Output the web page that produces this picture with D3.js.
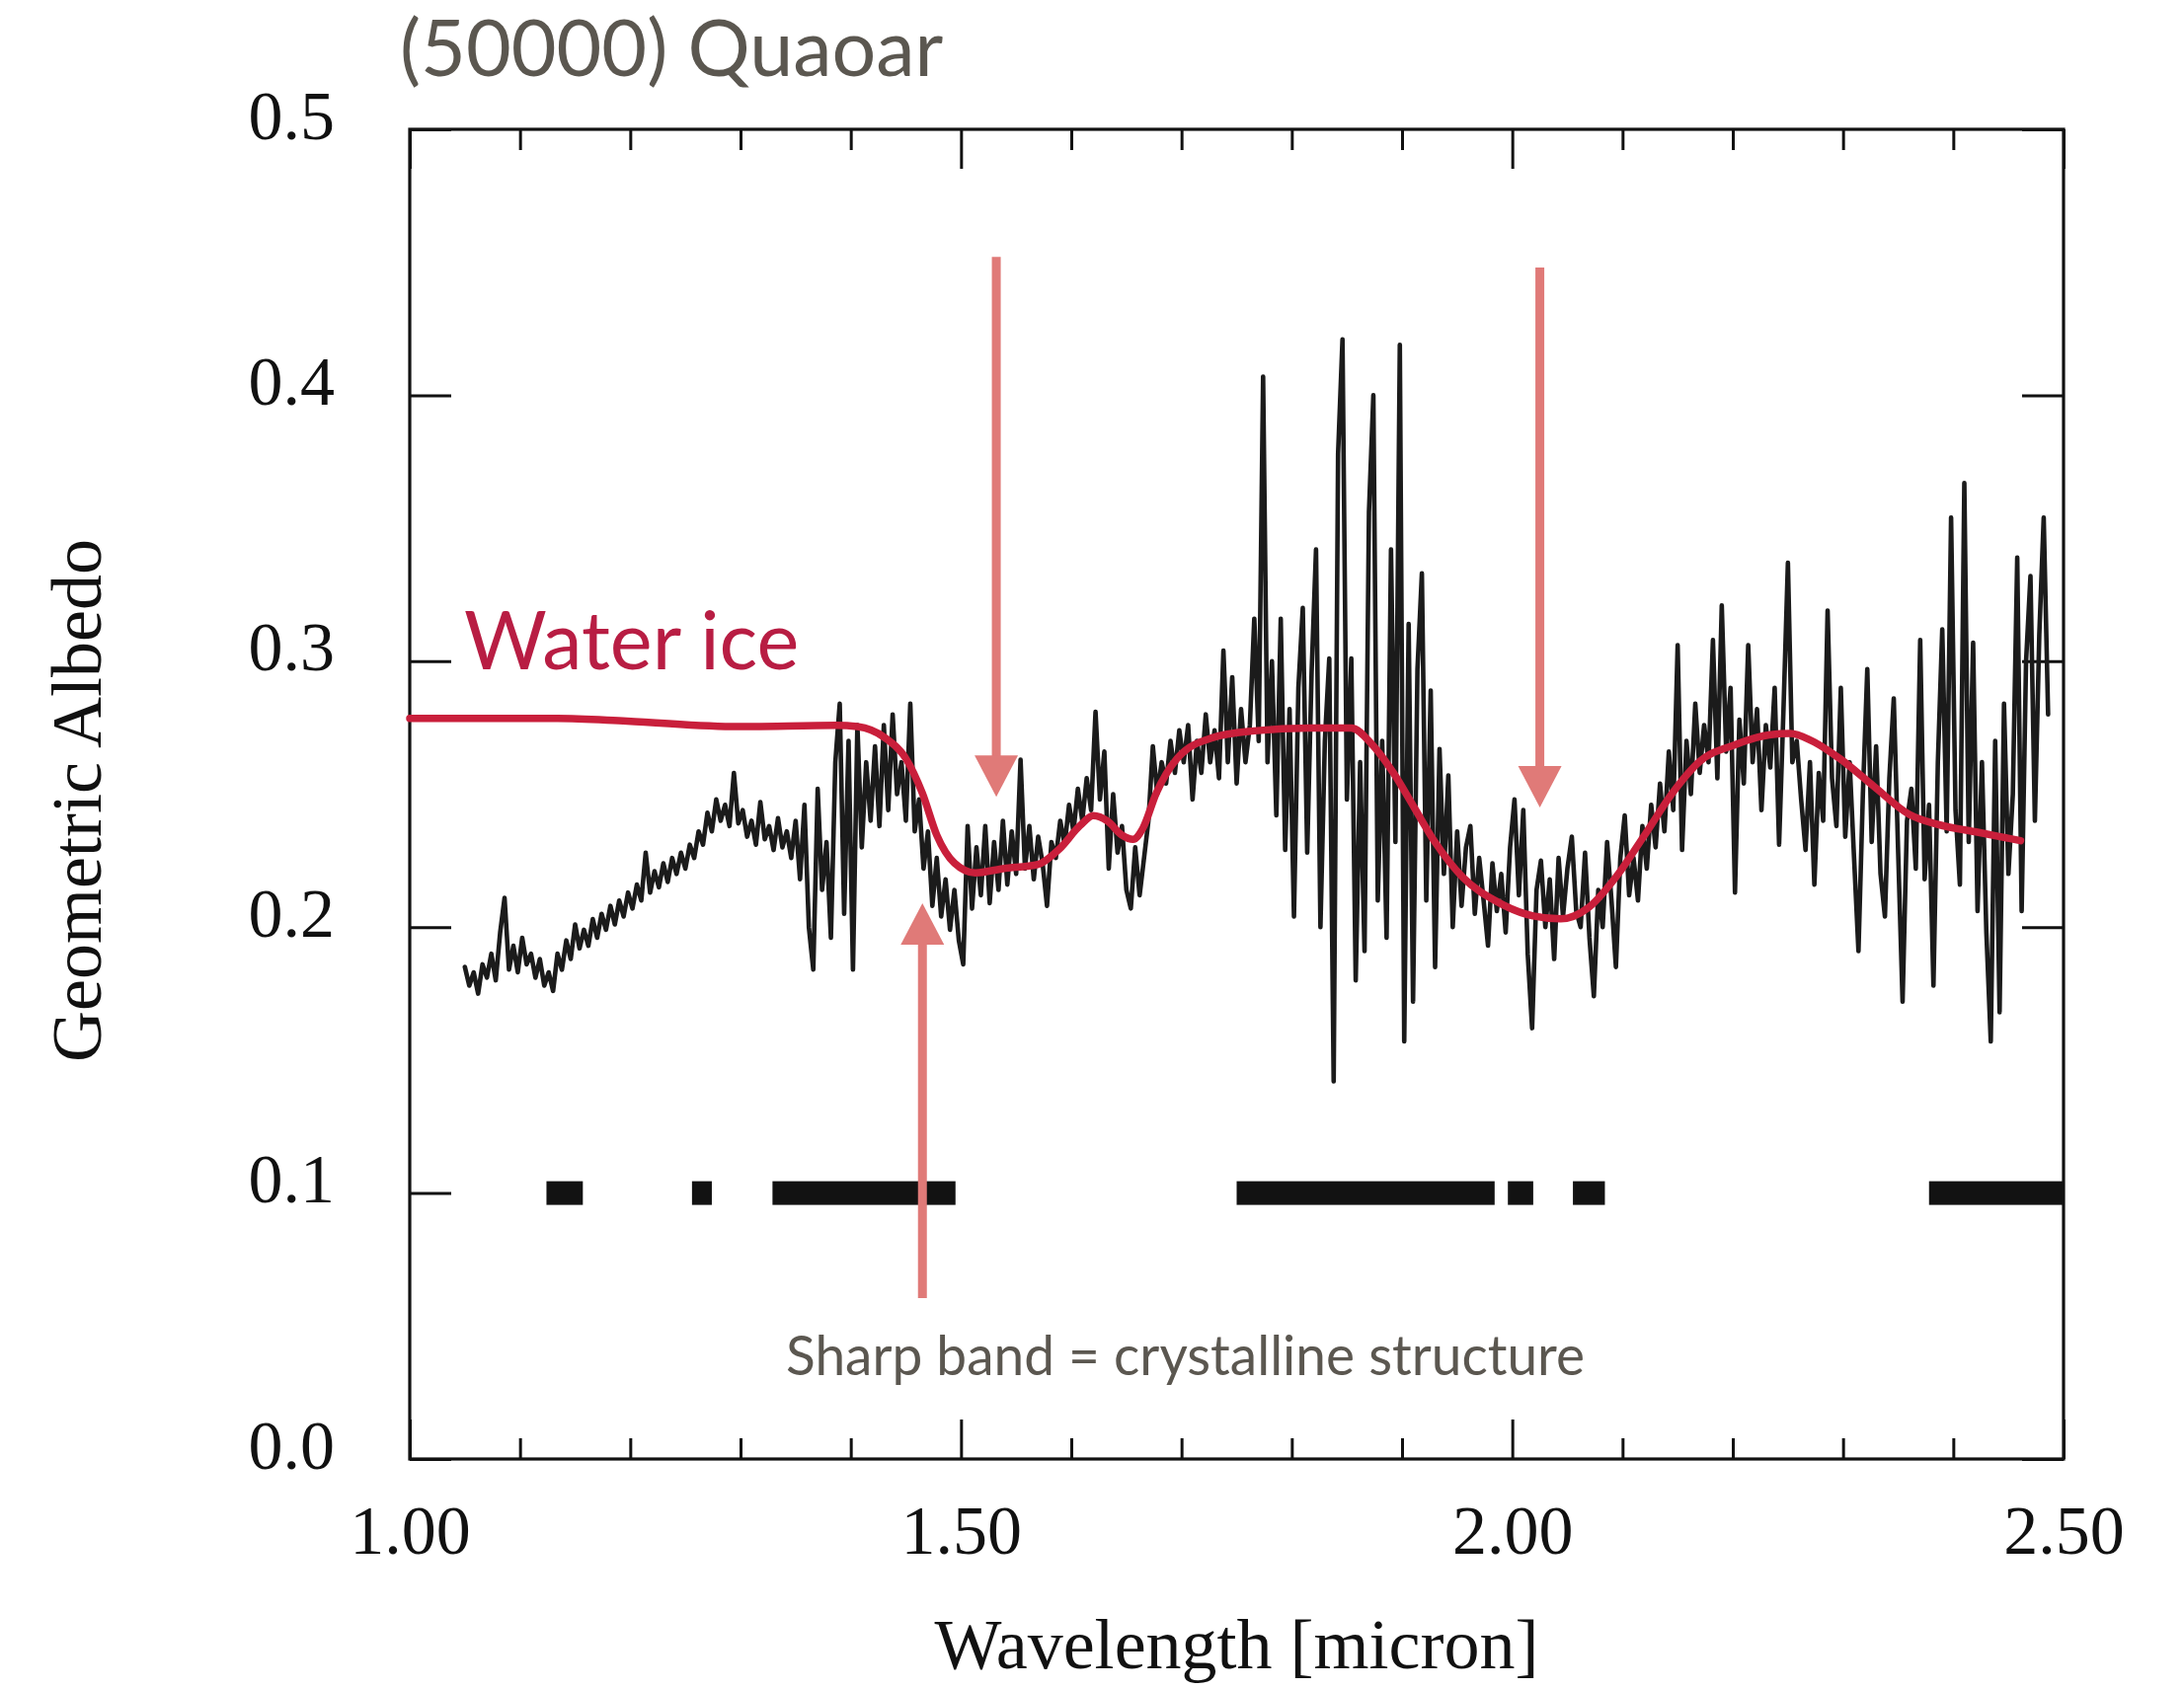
<!DOCTYPE html>
<html>
<head>
<meta charset="utf-8">
<script src="https://cdn.jsdelivr.net/npm/d3@7"></script>
<style>
  html, body { margin: 0; padding: 0; background: #ffffff; }
  svg { display: block; }
</style>
</head>
<body>
<svg id="chart" width="2212" height="1711"></svg>
<script>
// ---------------- DATA ----------------
const chartTitle = "(50000) Quaoar";
const xAxisTitle = "Wavelength [micron]";
const yAxisTitle = "Geometric Albedo";

const xMajorTicks = [1.0, 1.5, 2.0, 2.5];
const xMajorLabels = ["1.00", "1.50", "2.00", "2.50"];
const xMinorTicks = [1.1, 1.2, 1.3, 1.4, 1.6, 1.7, 1.8, 1.9, 2.1, 2.2, 2.3, 2.4];
const yTicks = [0.0, 0.1, 0.2, 0.3, 0.4, 0.5];
const yTickLabels = ["0.0", "0.1", "0.2", "0.3", "0.4", "0.5"];

// Observed spectrum: first wavelength and sampling step (micron), then albedo values
const spectrumStart = 1.050;
const spectrumStep = 0.004;
const spectrumAlbedo = [
  0.185,0.178,0.183,0.175,0.186,0.181,0.190,0.180,0.198,0.211,
  0.184,0.193,0.183,0.196,0.186,0.190,0.181,0.188,0.178,0.183,
  0.176,
  0.190,0.184,0.195,0.188,0.201,0.192,0.199,0.193,0.203,
  0.196,0.205,0.199,0.208,0.201,0.210,0.204,0.213,0.207,0.216,
  0.210,0.228,0.213,0.221,0.215,0.224,0.217,0.226,0.220,0.228,
  0.222,0.231,0.226,0.236,0.231,0.243,0.236,0.248,0.240,0.246,
  0.238,0.258,0.239,
  0.244,0.234,0.240,0.231,0.247,0.233,0.238,0.229,0.241,0.230,0.236,0.226,
  0.240,0.218,0.246,0.200,0.184,0.252,0.214,0.232,0.196,0.262,0.284,0.205,0.270,0.184,
  0.276,0.230,0.262,0.240,0.268,0.238,0.276,0.244,0.280,0.250,0.262,0.240,0.284,0.236,
  0.248,0.222,0.236,0.208,0.226,0.204,0.218,0.199,0.214,0.195,0.186,0.238,
  0.207,0.230,0.212,0.238,0.209,0.232,0.214,0.240,0.216,0.236,0.220,0.263,0.222,0.238,0.218,0.234,0.224,0.208,
  0.232,0.226,0.240,0.231,0.246,0.236,0.252,0.240,0.256,0.244,0.281,0.248,0.266,0.222,
  0.250,0.228,0.238,0.214,0.207,0.230,0.212,0.226,0.240,0.268,
  0.250,0.262,0.254,0.270,0.258,0.274,0.262,0.276,0.248,0.270,0.258,0.280,
  0.262,0.274,0.256,0.304,0.262,0.294,0.254,0.282,0.262,0.276,0.316,0.270,
  0.407,0.262,0.300,0.242,0.316,0.229,0.282,0.204,0.290,0.320,0.228,0.296,0.342,0.200,0.270,
  0.301,0.142,0.378,0.421,0.248,0.301,0.180,0.262,0.191,0.356,0.400,0.210,0.270,0.196,0.342,
  0.232,0.419,0.157,0.314,0.172,0.297,0.333,0.210,0.289,0.185,0.267,0.220,0.257,0.200,
  0.236,0.208,0.230,0.238,0.205,0.226,0.210,0.193,0.224,0.206,
  0.220,0.198,0.230,0.248,0.212,0.244,0.190,0.162,0.214,0.225,
  0.200,0.218,0.188,0.226,0.204,0.222,0.234,0.206,0.200,0.228,
  0.196,0.174,0.214,0.200,0.232,0.210,0.185,0.226,0.242,0.212,
  0.226,0.210,0.238,0.222,0.246,0.230,0.254,0.236,0.266,0.244,0.306,0.229,
  0.270,0.250,0.284,0.258,0.276,0.262,0.308,0.256,0.321,0.266,0.290,0.213,
  0.278,0.254,0.306,0.262,0.282,0.244,0.276,0.260,0.290,0.231,0.282,0.337,
  0.262,0.270,0.248,0.229,0.262,0.216,0.258,0.240,0.319,0.256,0.238,0.290,
  0.234,0.262,0.226,0.191,0.250,0.297,0.232,0.268,0.220,0.204,0.256,0.286,
  0.228,0.172,0.240,0.252,0.222,0.308,0.218,0.246,0.178,0.262,0.312,0.236,
  0.354,0.244,0.216,0.367,0.232,0.307,0.206,0.262,0.198,0.157,0.270,0.168,
  0.284,0.220,0.250,0.339,0.206,0.300,0.332,0.240,0.310,0.354,0.280
];

// Water-ice model curve
const modelWavelength = [1.000,1.134,1.197,1.298,1.387,1.406,1.431,1.450,1.465,1.478,1.494,1.513,1.538,1.570,1.589,1.608,1.620,1.633,1.646,1.656,1.665,1.677,1.696,1.728,1.766,1.816,1.854,1.873,1.892,1.911,1.930,1.955,1.987,2.019,2.044,2.069,2.094,2.120,2.145,2.170,2.202,2.233,2.252,2.271,2.297,2.328,2.360,2.385,2.423,2.461];
const modelAlbedo     = [0.2785,0.2785,0.2775,0.2754,0.2759,0.2754,0.2712,0.2634,0.2503,0.2346,0.2241,0.2204,0.2220,0.2236,0.2293,0.2382,0.2419,0.2398,0.2346,0.2330,0.2372,0.2503,0.2634,0.2712,0.2738,0.2749,0.2749,0.2686,0.2581,0.2450,0.2319,0.2188,0.2094,0.2042,0.2031,0.2073,0.2188,0.2346,0.2503,0.2623,0.2686,0.2723,0.2728,0.2702,0.2634,0.2529,0.2424,0.2387,0.2356,0.2325];

// Telluric (excluded) bands drawn at albedo 0.1
const bandStart = [1.124, 1.256, 1.329, 1.750, 1.996, 2.055, 2.378];
const bandEnd   = [1.157, 1.274, 1.495, 1.984, 2.019, 2.084, 2.500];
const bandLevel = 0.1;

// Annotation arrows: wavelength, tail albedo, tip albedo
const arrowWavelength = [1.532, 2.025, 1.465];
const arrowTail       = [0.452, 0.448, 0.0605];
const arrowTip        = [0.249, 0.245, 0.209];

const modelLabel = "Water ice";
const noteLabel = "Sharp band = crystalline structure";

// ---------------- CHART ----------------
const W = 2212, H = 1711;
const plot = { left: 415, right: 2090, top: 131, bottom: 1478 };
const serif = "'Liberation Serif', 'Times New Roman', Times, serif";
const sans = "Lato, 'Open Sans', 'Noto Sans', sans-serif";
const ink = "#111111";

const svg = d3.select("#chart");
svg.append("rect").attr("width", W).attr("height", H).attr("fill", "#ffffff");

const x = d3.scaleLinear().domain([1.0, 2.5]).range([plot.left, plot.right]);
const y = d3.scaleLinear().domain([0, 0.5]).range([plot.bottom, plot.top]);

function styleAxis(g, withText) {
  g.select(".domain").remove();
  g.selectAll(".tick line").attr("stroke", ink).attr("stroke-width", 3);
  if (withText) {
    g.selectAll(".tick text").attr("font-family", serif).attr("font-size", 70).attr("fill", ink);
  } else {
    g.selectAll(".tick text").remove();
  }
}

// bottom axis (major with labels, minor)
const gxB = svg.append("g").attr("transform", `translate(0,${plot.bottom})`)
  .call(d3.axisBottom(x).tickValues(xMajorTicks)
    .tickFormat(d => xMajorLabels[xMajorTicks.indexOf(d)])
    .tickSizeInner(-40).tickSizeOuter(0).tickPadding(46));
styleAxis(gxB, true);
const gxBm = svg.append("g").attr("transform", `translate(0,${plot.bottom})`)
  .call(d3.axisBottom(x).tickValues(xMinorTicks).tickFormat("").tickSizeInner(-21).tickSizeOuter(0));
styleAxis(gxBm, false);

// top axis
const gxT = svg.append("g").attr("transform", `translate(0,${plot.top})`)
  .call(d3.axisTop(x).tickValues(xMajorTicks).tickFormat("").tickSizeInner(-40).tickSizeOuter(0));
styleAxis(gxT, false);
const gxTm = svg.append("g").attr("transform", `translate(0,${plot.top})`)
  .call(d3.axisTop(x).tickValues(xMinorTicks).tickFormat("").tickSizeInner(-21).tickSizeOuter(0));
styleAxis(gxTm, false);

// left axis
const gyL = svg.append("g").attr("transform", `translate(${plot.left},0)`)
  .call(d3.axisLeft(y).tickValues(yTicks)
    .tickFormat(d => yTickLabels[yTicks.indexOf(d)])
    .tickSizeInner(-42).tickSizeOuter(0).tickPadding(76));
styleAxis(gyL, true);
gyL.selectAll(".tick text").attr("dy", "0.13em");

// right axis
const gyR = svg.append("g").attr("transform", `translate(${plot.right},0)`)
  .call(d3.axisRight(y).tickValues(yTicks).tickFormat("").tickSizeInner(-42).tickSizeOuter(0));
styleAxis(gyR, false);

// frame
svg.append("rect")
  .attr("x", plot.left).attr("y", plot.top)
  .attr("width", plot.right - plot.left).attr("height", plot.bottom - plot.top)
  .attr("fill", "none").attr("stroke", ink).attr("stroke-width", 3.2);

// telluric bands
svg.append("g").selectAll("rect")
  .data(bandStart.map((s, i) => ({ s, e: bandEnd[i] })))
  .join("rect")
  .attr("x", d => x(d.s))
  .attr("width", d => x(d.e) - x(d.s))
  .attr("y", y(bandLevel) - 12)
  .attr("height", 24)
  .attr("fill", "#121212");

// observed spectrum
const spectrum = spectrumAlbedo.map((a, i) => ({ w: spectrumStart + i * spectrumStep, a }));
svg.append("path")
  .datum(spectrum)
  .attr("fill", "none")
  .attr("stroke", "#1b1b1b")
  .attr("stroke-width", 4.6)
  .attr("stroke-linejoin", "round")
  .attr("stroke-linecap", "round")
  .attr("d", d3.line().x(d => x(d.w)).y(d => y(d.a)));

// water ice model
const model = modelWavelength.map((w, i) => ({ w, a: modelAlbedo[i] }));
svg.append("path")
  .datum(model)
  .attr("fill", "none")
  .attr("stroke", "#c91f3b")
  .attr("stroke-width", 7.5)
  .attr("stroke-linejoin", "round")
  .attr("stroke-linecap", "round")
  .attr("d", d3.line().curve(d3.curveMonotoneX).x(d => x(d.w)).y(d => y(d.a)));

// arrows
const arrowColor = "#e07a78";
const headLen = 42, headHalf = 22;
const arrows = arrowWavelength.map((w, i) => ({ w, t: arrowTail[i], p: arrowTip[i] }));
const ga = svg.append("g");
arrows.forEach(d => {
  const ax = x(d.w), y0 = y(d.t), y1 = y(d.p);
  const dir = y1 > y0 ? 1 : -1;
  const base = y1 - dir * headLen;
  ga.append("line")
    .attr("x1", ax).attr("x2", ax).attr("y1", y0).attr("y2", base + dir * 2)
    .attr("stroke", arrowColor).attr("stroke-width", 9);
  ga.append("path")
    .attr("d", `M${ax - headHalf},${base}L${ax + headHalf},${base}L${ax},${y1}Z`)
    .attr("fill", arrowColor);
});

// texts
svg.append("text")
  .attr("x", 405).attr("y", 77)
  .attr("font-family", sans).attr("font-size", 79)
  .attr("fill", "#5b5750")
  .text(chartTitle);

svg.append("text")
  .attr("x", 470).attr("y", 678)
  .attr("font-family", sans).attr("font-size", 81)
  .attr("fill", "#b81d43")
  .text(modelLabel);

svg.append("text")
  .attr("x", 796).attr("y", 1393)
  .attr("font-family", sans).attr("font-size", 56)
  .attr("fill", "#5b5750")
  .attr("textLength", 809).attr("lengthAdjust", "spacingAndGlyphs")
  .text(noteLabel);

svg.append("text")
  .attr("x", (plot.left + plot.right) / 2).attr("y", 1690)
  .attr("text-anchor", "middle")
  .attr("font-family", serif).attr("font-size", 72)
  .attr("fill", ink)
  .text(xAxisTitle);

svg.append("text")
  .attr("transform", `translate(102,811) rotate(-90)`)
  .attr("text-anchor", "middle")
  .attr("font-family", serif).attr("font-size", 72)
  .attr("fill", ink)
  .text(yAxisTitle);
</script>
</body>
</html>
